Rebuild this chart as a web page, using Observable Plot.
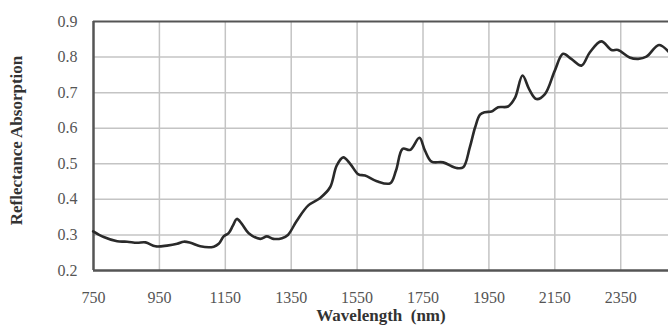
<!DOCTYPE html>
<html>
<head>
<meta charset="utf-8">
<script src="https://cdn.jsdelivr.net/npm/d3@7"></script>
<script src="https://cdn.jsdelivr.net/npm/@observablehq/plot@0.6"></script>
<style>
  body { margin: 0; background: #fff; }
  #chart svg { display: block; }
</style>
</head>
<body>
<div id="chart"></div>
<script>
const wavelength = [749, 781, 822, 852, 882, 908, 938, 973, 1004, 1024, 1044, 1074, 1115, 1130, 1145, 1160, 1173, 1185, 1200, 1221, 1256, 1276, 1296, 1322, 1340, 1367, 1402, 1438, 1468, 1488, 1508, 1529, 1554, 1574, 1610, 1650, 1668, 1688, 1711, 1739, 1756, 1776, 1811, 1852, 1872, 1892, 1908, 1923, 1938, 1958, 1978, 2008, 2029, 2052, 2072, 2094, 2120, 2150, 2175, 2200, 2231, 2256, 2291, 2322, 2342, 2377, 2403, 2428, 2466, 2495];
const reflectance = [0.310, 0.294, 0.282, 0.281, 0.278, 0.279, 0.268, 0.270, 0.275, 0.281, 0.278, 0.268, 0.267, 0.275, 0.296, 0.305, 0.326, 0.345, 0.331, 0.305, 0.289, 0.296, 0.289, 0.291, 0.300, 0.340, 0.383, 0.404, 0.434, 0.495, 0.518, 0.500, 0.470, 0.467, 0.451, 0.445, 0.481, 0.542, 0.539, 0.573, 0.537, 0.506, 0.504, 0.488, 0.490, 0.546, 0.602, 0.638, 0.645, 0.647, 0.659, 0.661, 0.685, 0.748, 0.710, 0.682, 0.696, 0.762, 0.809, 0.795, 0.776, 0.813, 0.844, 0.820, 0.820, 0.799, 0.795, 0.801, 0.834, 0.815];
const xTicks = [750, 950, 1150, 1350, 1550, 1750, 1950, 2150, 2350];
const yTicks = [0.2, 0.3, 0.4, 0.5, 0.6, 0.7, 0.8, 0.9];
const xTitle = "Wavelength  (nm)";
const yTitle = "Reflectance Absorption";

const data = wavelength.map((w, i) => ({w, r: reflectance[i]}));
const font = "Liberation Serif, Times New Roman, serif";

const chart = Plot.plot({
  width: 668,
  height: 329,
  marginLeft: 93,
  marginRight: 0,
  marginTop: 21,
  marginBottom: 59,
  style: {fontFamily: font, fontSize: "16px", color: "#555", background: "#fff"},
  x: {domain: [750, 2495]},
  y: {domain: [0.2, 0.9]},
  marks: [
    Plot.gridX(xTicks.slice(1), {stroke: "#c4c4c4", strokeOpacity: 1, strokeWidth: 1.5}),
    Plot.gridY(yTicks.slice(1, -1), {stroke: "#c4c4c4", strokeOpacity: 1, strokeWidth: 1.5}),
    Plot.axisX({ticks: xTicks, tickSize: 0, tickPadding: 21, label: null, fill: "#555", fontFamily: font, fontSize: 16, tickFormat: d => String(d)}),
    Plot.axisY({ticks: yTicks, tickSize: 0, tickPadding: 16, label: null, fill: "#555", fontFamily: font, fontSize: 16, tickFormat: d => d.toFixed(1)}),
    Plot.ruleY([0.9], {stroke: "#555", strokeWidth: 2}),
    Plot.ruleY([0.2], {stroke: "#555", strokeWidth: 2.5}),
    Plot.ruleX([750], {stroke: "#555", strokeWidth: 2.5}),
    Plot.line(data, {x: "w", y: "r", stroke: "#2a2a2a", strokeWidth: 2.6, curve: "catmull-rom"}),
    Plot.text([xTitle], {frameAnchor: "bottom", dy: 50, text: d => d, textAnchor: "middle", fontWeight: "bold", fontSize: 17, fill: "#333", fontFamily: font}),
    Plot.text([yTitle], {frameAnchor: "left", dx: -77, dy: -5.5, rotate: -90, textAnchor: "middle", text: d => d, fontWeight: "bold", fontSize: 17, fill: "#333", fontFamily: font})
  ]
});
document.getElementById("chart").appendChild(chart);
</script>
</body>
</html>
